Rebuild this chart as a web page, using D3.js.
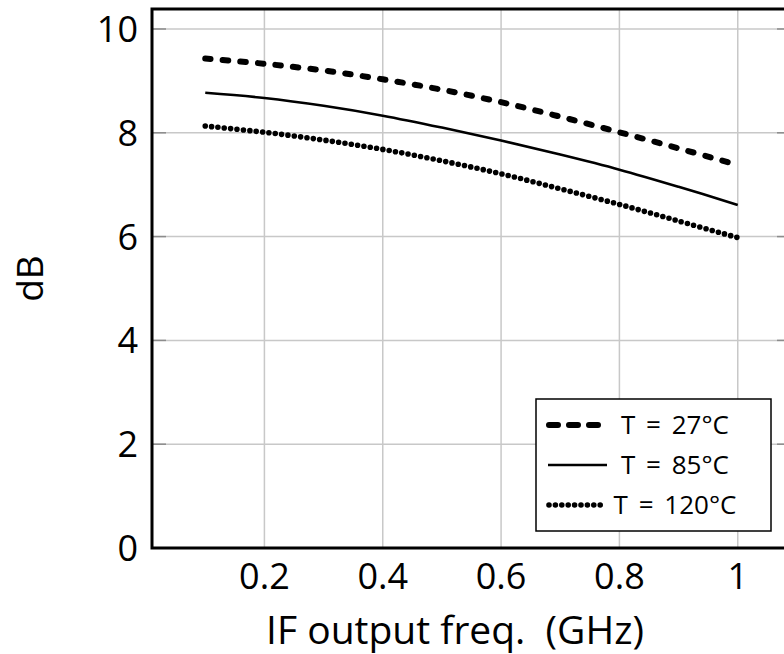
<!DOCTYPE html>
<html>
<head>
<meta charset="utf-8">
<script src="https://cdn.jsdelivr.net/npm/d3@7"></script>
<style>
  body { margin: 0; background: #fff; }
  text { font-family: "Open Sans", "Noto Sans", sans-serif; fill: #000; }
</style>
</head>
<body>
<div id="chart"></div>
<script>
// frequencies in GHz
const freqs = [0.1, 0.2, 0.3, 0.4, 0.5, 0.6, 0.7, 0.8, 0.9, 1.0];
// gain (dB) per temperature
const t27 = [9.43, 9.33, 9.2, 9.03, 8.83, 8.59, 8.31, 8.01, 7.7, 7.38];
const t85 = [8.77, 8.67, 8.52, 8.33, 8.1, 7.85, 7.58, 7.29, 6.96, 6.61];
const t120 = [8.13, 8.01, 7.86, 7.68, 7.46, 7.21, 6.92, 6.62, 6.3, 5.98];
const seriesNames = ["T = 27°C", "T = 85°C", "T = 120°C"];
const xTicks = [0.2, 0.4, 0.6, 0.8, 1];
const yTicks = [0, 2, 4, 6, 8, 10];

const W = 784, H = 654;
const margin = {left: 152, top: 9, right: -7, bottom: 106};
const width = W - margin.left - margin.right;
const height = H - margin.top - margin.bottom;

const svg = d3.select('#chart').append('svg')
  .attr('width', W)
  .attr('height', H);

const x = d3.scaleLinear().domain([0.01, 1.09]).range([margin.left, margin.left + width]);
const y = d3.scaleLinear().domain([0, 10.385]).range([margin.top + height, margin.top]);

// grid
const grid = svg.append('g').attr('stroke', '#c8c8c8').attr('stroke-width', 1.5);
grid.selectAll('.gx').data(xTicks).enter().append('line')
  .attr('x1', d => x(d)).attr('x2', d => x(d))
  .attr('y1', y.range()[0]).attr('y2', y.range()[1]);
grid.selectAll('.gy').data(yTicks).enter().append('line')
  .attr('y1', d => y(d)).attr('y2', d => y(d))
  .attr('x1', x.range()[0]).attr('x2', x.range()[1]);

// inner ticks (left and right)
const ticks = svg.append('g').attr('stroke', '#8c8c8c').attr('stroke-width', 1.5);
ticks.selectAll('.tl').data(yTicks).enter().append('line')
  .attr('y1', d => y(d)).attr('y2', d => y(d))
  .attr('x1', x.range()[0]).attr('x2', x.range()[0] + 14);
ticks.selectAll('.tr').data(yTicks).enter().append('line')
  .attr('y1', d => y(d)).attr('y2', d => y(d))
  .attr('x1', x.range()[1] - 14).attr('x2', x.range()[1]);

// series
const styles = [
  {w: 6, dash: '5.5 12.1', cap: 'round'},
  {w: 2.6, dash: null, cap: 'butt'},
  {w: 5.6, dash: '0 6.4', cap: 'round'}
];
const series = [t27, t85, t120];
const line = d3.line().x(d => x(d[0])).y(d => y(d[1])).curve(d3.curveCatmullRom);

series.forEach((vals, i) => {
  svg.append('path')
    .datum(freqs.map((f, j) => [f, vals[j]]))
    .attr('d', line)
    .attr('fill', 'none')
    .attr('stroke', '#000')
    .attr('stroke-width', styles[i].w)
    .attr('stroke-linecap', styles[i].cap)
    .attr('stroke-dasharray', styles[i].dash);
});

// axis frame
svg.append('path')
  .attr('d', 'M' + x.range()[1] + ',' + y.range()[1] + 'H' + x.range()[0] + 'V' + y.range()[0] + 'H' + x.range()[1])
  .attr('fill', 'none')
  .attr('stroke', '#000')
  .attr('stroke-width', 3);

// tick labels
svg.selectAll('.xl').data(xTicks).enter().append('text')
  .attr('x', d => x(d)).attr('y', 589)
  .attr('text-anchor', 'middle')
  .style('font-size', '36px')
  .text(d => d);
svg.selectAll('.yl').data(yTicks).enter().append('text')
  .attr('x', 138).attr('y', d => y(d) + 13)
  .attr('text-anchor', 'end')
  .style('font-size', '36px')
  .text(d => d);

// axis labels
svg.append('text')
  .attr('x', 455).attr('y', 644)
  .attr('text-anchor', 'middle')
  .style('font-size', '39px')
  .style('white-space', 'pre')
  .text('IF output freq.  (GHz)');
svg.append('text')
  .attr('transform', 'translate(43,' + ((y.range()[0] + y.range()[1]) / 2) + ') rotate(-90)')
  .attr('text-anchor', 'middle')
  .style('font-size', '37px')
  .text('dB');

// legend
const legend = svg.append('g');
legend.append('rect')
  .attr('x', 536).attr('y', 399).attr('width', 235).attr('height', 132)
  .attr('fill', '#fff').attr('stroke', '#000').attr('stroke-width', 1.5);
seriesNames.forEach((name, i) => {
  const ly = 425 + i * 40;
  legend.append('line')
    .attr('x1', i === 1 ? 548 : 549).attr('x2', i === 1 ? 607 : 605)
    .attr('y1', ly).attr('y2', ly)
    .attr('stroke', '#000')
    .attr('stroke-width', styles[i].w)
    .attr('stroke-linecap', styles[i].cap)
    .attr('stroke-dasharray', i === 0 ? '9 11' : styles[i].dash);
  legend.append('text')
    .attr('x', 675).attr('y', ly + 9)
    .attr('text-anchor', 'middle')
    .style('font-size', '26px')
    .style('word-spacing', '4px')
    .text(name);
});
</script>
</body>
</html>
